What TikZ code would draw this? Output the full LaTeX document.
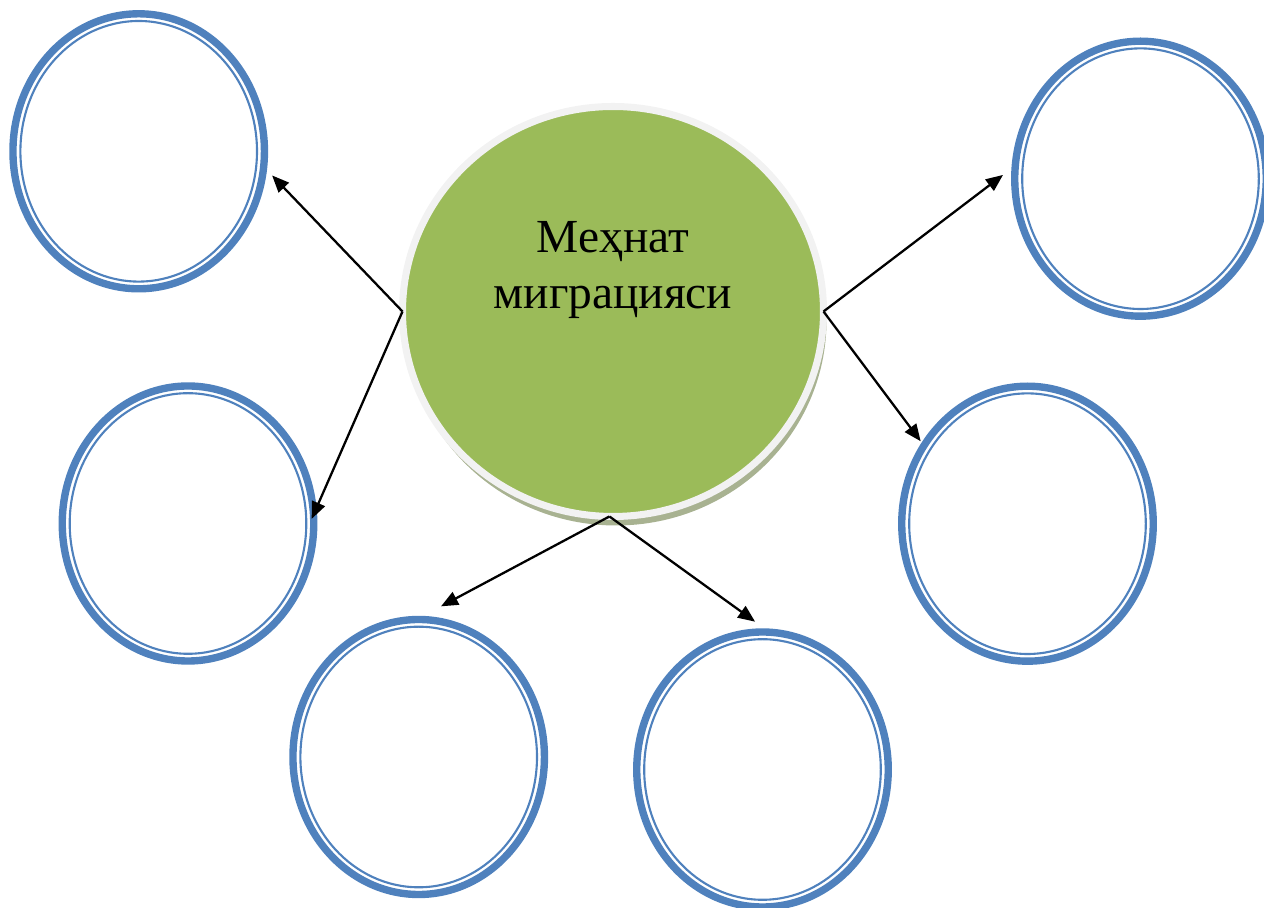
\documentclass[tikz,border=0pt]{standalone}
\usepackage{fontspec}
\setmainfont{Liberation Serif}
\usetikzlibrary{shapes.geometric,arrows.meta,shadows}
\definecolor{bubbleblue}{RGB}{79,129,189}
\definecolor{hubgreen}{RGB}{155,187,89}
\definecolor{hubrim}{RGB}{242,242,242}
\definecolor{hubshadow}{RGB}{168,178,145}

\begin{document}
\begin{tikzpicture}[
    hub/.style={ellipse, fill=hubgreen, draw=hubrim, line width=4pt,
        minimum width=8.42cm, minimum height=8.2cm, inner sep=0pt, outer sep=0pt,
        drop shadow={shadow xshift=0.06cm, shadow yshift=-0.18cm, fill=hubshadow, opacity=1}},
    bubble/.style={ellipse, draw=bubbleblue, line width=4.2pt,
        minimum width=5.03cm, minimum height=5.5cm, inner sep=0pt, outer sep=0pt},
    ring/.style={draw=bubbleblue, line width=1.2pt},
    title/.style={align=center, font=\fontsize{27}{32.3}\selectfont},
    link/.style={-{Triangle[length=0.34cm, width=0.28cm]}, line width=1.3pt}
]
    \useasboundingbox (0,0) rectangle (25.28,18.16);

    % Central circle
    \node[hub] (mig) at (12.26,11.93) {};
    \node[title] (name) at ([yshift=0.83cm]mig.center) {Меҳнат\\миграцияси};

    % Outer circles, left side
    \node[bubble] (tl) at (2.774,15.134) {};
    \node[bubble] (ml) at (3.76,7.69) {};

    % Outer circles, bottom
    \node[bubble] (bl) at (8.374,3.02) {};
    \node[bubble] (bm) at (15.25,2.77) {};

    % Outer circles, right side
    \node[bubble] (mr) at (20.55,7.686) {};
    \node[bubble] (tr) at (22.81,14.586) {};

    % Inner thin rings
    \foreach \b in {tl,ml,bl,bm,mr,tr}
        \draw[ring] (\b.center) ellipse (2.366cm and 2.606cm);

    % Arrows from the west point
    \draw[link, shorten >=0.244cm] (mig.west) -- (tl.-7.7);
    \draw[link, shorten >=-0.09cm] (mig.west) -- (ml.4.15);

    % Arrows from the south point
    \draw[link, shorten >=0.56cm] (mig.-91) -- (bl.91.5);
    \draw[link, shorten >=0.36cm] (mig.-91) -- (bm.87);

    % Arrows from the east point
    \draw[link, shorten >=0.31cm] (mig.east) -- (tr.174.5);
    \draw[link, shorten >=0.11cm] (mig.east) -- (mr.143.1);
\end{tikzpicture}
\end{document}
